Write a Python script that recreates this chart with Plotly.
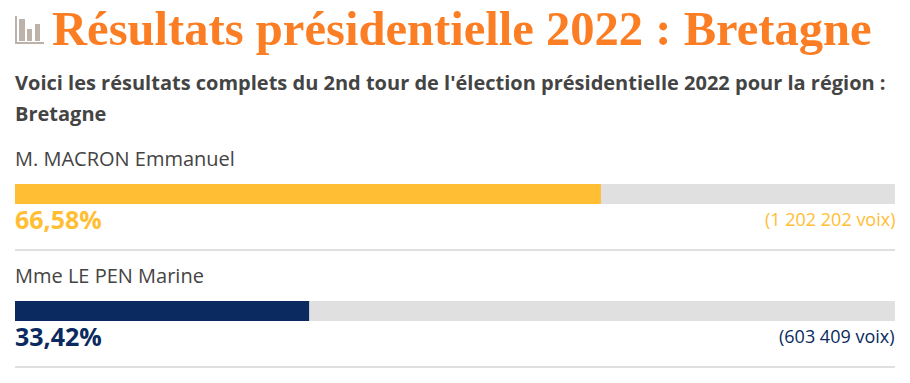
import plotly.graph_objects as go

W, H = 910, 383
candidates = ["M. MACRON Emmanuel", "Mme LE PEN Marine"]
percent = [66.58, 33.42]
percent_labels = ["66,58%", "33,42%"]
vote_labels = ["(1 202 202 voix)", "(603 409 voix)"]
colors = ["#FFBE33", "#0A2A60"]
track = [100, 100]
title = "Résultats présidentielle 2022 : Bretagne"
subtitle_lines = ["Voici les résultats complets du 2nd tour de l'élection présidentielle 2022 pour la région :", "Bretagne"]

L, R = 15, 895
ROW0, STEP = 194, 117

def px(x):
    return x / W

def py(y):
    return 1 - y / H

fig = go.Figure()
fig.add_trace(go.Bar(x=track, y=candidates, orientation="h", marker=dict(color="#E0E0E0", line_width=0),
                     width=20 / STEP, hoverinfo="skip", showlegend=False))
fig.add_trace(go.Bar(x=percent, y=candidates, orientation="h", marker=dict(color=colors, line_width=0),
                     width=20 / STEP, showlegend=False))

ann = []
def text(x, y, s, size, color, font="Open Sans", anchor="left", bold=False):
    ann.append(dict(x=px(x), y=py(y), xref="paper", yref="paper", text=f"<b>{s}</b>" if bold else s,
                    showarrow=False, xanchor=anchor, yanchor="middle", align="left",
                    font=dict(family=font, size=size, color=color), borderpad=0, borderwidth=0))

text(52, 29, title, 48.6, "#FC7E24", font="Liberation Serif", bold=True)
for k, line in enumerate(subtitle_lines):
    text(14.5, 83 + 30 * k, line, 20, "#444444", bold=True)
for i, c in enumerate(candidates):
    dy = i * STEP
    text(14.5, 158 + dy, c, 20, "#444444")
    text(14.5, 219 + dy, percent_labels[i], 25, colors[i], bold=True)
    text(895, 219 + dy, vote_labels[i], 18, colors[i], anchor="right")

shapes = []
for i in range(len(candidates)):
    y = 250 + i * STEP
    shapes.append(dict(type="line", xref="paper", yref="paper", x0=px(L), x1=px(R), y0=py(y), y1=py(y),
                       line=dict(color="#E0E0E0", width=2)))
icon = "#BDB2AA"
for (x0, y0, x1, y1) in [(15, 16, 17, 44), (15, 42, 44, 44), (19, 19, 25, 41), (27, 29, 32, 41), (35, 24, 40, 41)]:
    shapes.append(dict(type="rect", xref="paper", yref="paper", x0=px(x0), x1=px(x1), y0=py(y0), y1=py(y1),
                       fillcolor=icon, line_width=0))

fig.update_layout(
    width=W, height=H, margin=dict(l=0, r=0, t=0, b=0), autosize=False,
    paper_bgcolor="white", plot_bgcolor="white", barmode="overlay",
    xaxis=dict(domain=[px(L), px(R)], range=[0, 100], visible=False, fixedrange=True),
    yaxis=dict(range=[(H - ROW0) / STEP, -ROW0 / STEP], visible=False, fixedrange=True,
               type="category", categoryorder="array", categoryarray=candidates),
    annotations=ann, shapes=shapes,
)
fig.write_html("out.html", config={"displayModeBar": False},
               post_script="document.body.style.margin='0';document.body.style.overflow='hidden';")
